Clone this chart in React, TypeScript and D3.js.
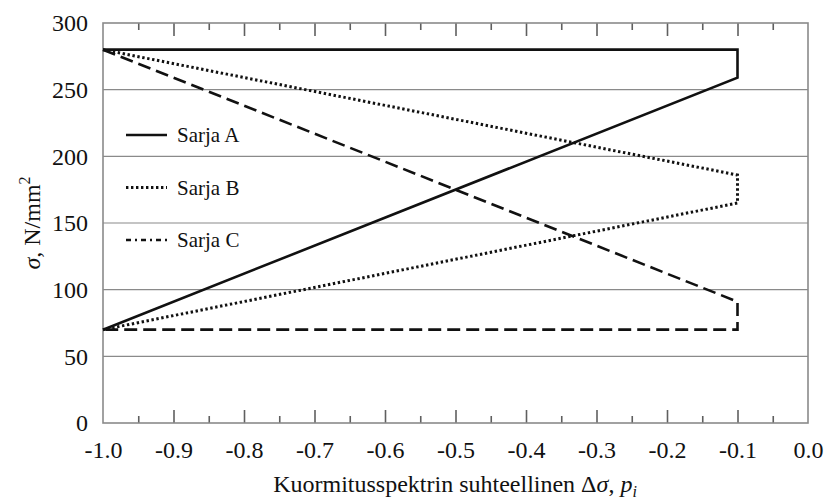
import React, { useEffect, useRef } from "react";
import * as d3 from "d3";

// Load spectrum outlines: relative Δσ (x) against stress σ (y)
const seriesNames = ["Sarja A", "Sarja B", "Sarja C"];
const seriesAx = [-1.0, -0.1, -0.1, -1.0];
const seriesAy = [70, 259, 280, 280];
const seriesBx = [-1.0, -0.1, -0.1, -1.0];
const seriesBy = [280, 186, 165, 70];
const seriesCx = [-1.0, -0.1, -0.1, -1.0];
const seriesCy = [280, 91, 70, 70];
const xTicks = [-1.0, -0.9, -0.8, -0.7, -0.6, -0.5, -0.4, -0.3, -0.2, -0.1, 0.0];
const yTicks = [0, 50, 100, 150, 200, 250, 300];

const W = 826;
const H = 500;
const M = { left: 103, right: 18, top: 23, bottom: 77 };
const FONT = "'Liberation Serif', 'Times New Roman', serif";

export default function App() {
  const ref = useRef<SVGSVGElement>(null);

  useEffect(() => {
    const svg = d3.select(ref.current);
    svg.selectAll("*").remove();

    svg
      .append("style")
      .text(`text, tspan { font-family: 'Liberation Serif', 'Times New Roman', serif !important; }`);

    const x = d3.scaleLinear().domain([-1, 0]).range([M.left, W - M.right]);
    const y = d3.scaleLinear().domain([0, 300]).range([H - M.bottom, M.top]);
    const grid = "#8a8a8a";
    const tick = "#5f5f5f";

    svg.append("rect").attr("width", W).attr("height", H).attr("fill", "#fff");

    // horizontal grid lines
    svg
      .append("g")
      .selectAll("line")
      .data(yTicks.slice(1, -1))
      .join("line")
      .attr("x1", x(-1))
      .attr("x2", x(0))
      .attr("y1", (d) => y(d))
      .attr("y2", (d) => y(d))
      .attr("stroke", grid)
      .attr("stroke-width", 1.2);

    // inward ticks on bottom and top edges
    const major = xTicks.slice(1, -1);
    const minor = d3.range(-0.95, 0, 0.1);
    const drawTicks = (g: any) => {
      g.select(".domain").remove();
      g.selectAll(".tick line").attr("stroke", tick).attr("stroke-width", 1.6);
    };
    const edge = (yPos: number, len: number, vals: number[], top: boolean) =>
      svg
        .append("g")
        .attr("transform", `translate(0,${yPos})`)
        .call((top ? d3.axisBottom(x) : d3.axisTop(x)).tickValues(vals).tickSize(len).tickFormat(() => ""))
        .call(drawTicks);
    edge(y(0), 13, major, false);
    edge(y(0), 7, minor, false);
    edge(y(300), 13, major, true);
    edge(y(300), 7, minor, true);

    // frame
    svg
      .append("rect")
      .attr("x", x(-1))
      .attr("y", y(300))
      .attr("width", x(0) - x(-1))
      .attr("height", y(0) - y(300))
      .attr("fill", "none")
      .attr("stroke", grid)
      .attr("stroke-width", 1.6);

    // x tick labels
    const xa = svg
      .append("g")
      .attr("transform", `translate(0,${y(0)})`)
      .call(d3.axisBottom(x).tickValues(xTicks).tickSize(0).tickPadding(18).tickFormat((d: any) => (+d).toFixed(1)));
    xa.select(".domain").remove();
    xa.attr("font-family", FONT);
    xa.selectAll("text").attr("font-family", FONT).attr("font-size", 24).attr("fill", "#111");

    // y tick labels
    const ya = svg
      .append("g")
      .attr("transform", `translate(${x(-1)},0)`)
      .call(d3.axisLeft(y).tickValues(yTicks).tickSize(0).tickPadding(15));
    ya.select(".domain").remove();
    ya.attr("font-family", FONT);
    ya.selectAll("text").attr("font-family", FONT).attr("font-size", 24).attr("fill", "#111");

    // series outlines
    const line = d3
      .line()
      .x((d: any) => x(d[0]))
      .y((d: any) => y(d[1]));
    const zip = (xs: number[], ys: number[]) => xs.map((v, i) => [v, ys[i]]);
    const series = [
      { pts: zip(seriesAx, seriesAy), dash: null, w: 2.6 },
      { pts: zip(seriesBx, seriesBy), dash: "2.4,2.6", w: 3 },
      { pts: zip(seriesCx, seriesCy), dash: "13,6", w: 2.6 },
    ];
    series.forEach((s) => {
      svg
        .append("path")
        .attr("d", line(s.pts as any))
        .attr("fill", "none")
        .attr("stroke", "#111")
        .attr("stroke-width", s.w)
        .attr("stroke-dasharray", s.dash);
    });

    // legend
    const legendDash = [null, "2.4,2.6", "5,4,2,4"];
    seriesNames.forEach((n, i) => {
      const ly = 135 + i * 52.5;
      svg
        .append("line")
        .attr("x1", 126)
        .attr("x2", 167)
        .attr("y1", ly)
        .attr("y2", ly)
        .attr("stroke", "#111")
        .attr("stroke-width", i === 1 ? 2.8 : 2.4)
        .attr("stroke-dasharray", legendDash[i]);
      svg
        .append("text")
        .attr("x", 177)
        .attr("y", ly + 7)
        .attr("font-family", FONT)
        .attr("font-size", 21)
        .attr("fill", "#111")
        .text(n);
    });

    // x axis title
    const xt = svg
      .append("text")
      .attr("x", 455)
      .attr("y", 492)
      .attr("text-anchor", "middle")
      .attr("font-family", FONT)
      .attr("font-size", 24)
      .attr("fill", "#111");
    xt.append("tspan").text("Kuormitusspektrin suhteellinen Δ");
    xt.append("tspan").attr("font-style", "italic").text("σ");
    xt.append("tspan").text(", ");
    xt.append("tspan").attr("font-style", "italic").text("p");
    xt.append("tspan").attr("font-style", "italic").attr("font-size", 16).attr("dy", 5).text("i");

    // y axis title
    const yt = svg
      .append("text")
      .attr("transform", `translate(40,${y(150)}) rotate(-90)`)
      .attr("text-anchor", "middle")
      .attr("font-family", FONT)
      .attr("font-size", 24)
      .attr("fill", "#111");
    yt.append("tspan").attr("font-style", "italic").text("σ");
    yt.append("tspan").text(", N/mm");
    yt.append("tspan").attr("font-size", 16).attr("dy", -10).text("2");
  }, []);

  return (
    <svg
      ref={ref}
      width={W}
      height={H}
      style={{ display: "block", position: "absolute", left: 0, top: 0 }}
    />
  );
}
